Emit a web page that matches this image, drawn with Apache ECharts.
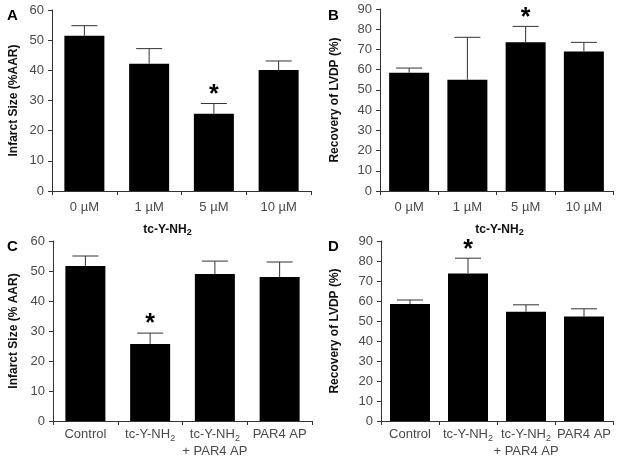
<!DOCTYPE html>
<html>
<head>
<meta charset="utf-8">
<script src="https://cdn.jsdelivr.net/npm/echarts@6/dist/echarts.min.js"></script>
<style>html,body{margin:0;padding:0;background:#fff}#c{width:624px;height:460px}</style>
</head>
<body>
<div id="c"></div>
<script>
// ---- data ----
var catsAB = ['0 µM', '1 µM', '5 µM', '10 µM'];
var catsCD = ['Control', 'tc-Y-NH2', 'tc-Y-NH2\n+ PAR4 AP', 'PAR4 AP'];
var infarctA = [51.5, 42.2, 25.6, 40.1];
var infarctAErr = [3.3, 5.0, 3.4, 3.0];
var lvdpB = [58.5, 55.0, 73.5, 69.0];
var lvdpBErr = [2.3, 21.0, 7.9, 4.5];
var infarctC = [51.7, 25.7, 49.0, 48.0];
var infarctCErr = [3.3, 3.6, 4.3, 5.0];
var lvdpD = [58.5, 73.8, 54.6, 52.2];
var lvdpDErr = [2.0, 7.6, 3.5, 3.9];
var sigA = [0, 0, 1, 0];
var sigB = [0, 0, 1, 0];
var sigC = [0, 1, 0, 0];
var sigD = [0, 1, 0, 0];
var panelLetters = ['A', 'B', 'C', 'D'];

var FONT = '"Liberation Sans", Arial, sans-serif';
var AXC = '#333';

function fmtLabel(v) {
  return v.split('\n').map(function (line) {
    return line.replace(/NH2/g, 'NH{s|2}');
  }).join('\n');
}
var labelRich = {
  s: { fontSize: 9, fontFamily: FONT, color: '#4a4a4a', verticalAlign: 'bottom', padding: [6, 0, 0, 0] }
};

var grids = [
  { left: 52, top: 10, width: 259, height: 181 },
  { left: 380, top: 9, width: 233, height: 182 },
  { left: 53, top: 241, width: 259, height: 180 },
  { left: 381, top: 241, width: 232, height: 180 }
];
var yNames = ['Infarct Size (%AAR)', 'Recovery of LVDP (%)', 'Infarct Size (% AAR)', 'Recovery of LVDP (%)'];
var yMax = [60, 90, 60, 90];
var yNameGap = [32, 39, 33, 40];
var xLabelMargin = [8, 8, 5, 5];
var cats = [catsAB, catsAB, catsCD, catsCD];
var vals = [infarctA, lvdpB, infarctC, lvdpD];
var errs = [infarctAErr, lvdpBErr, infarctCErr, lvdpDErr];
var sigs = [sigA, sigB, sigC, sigD];

var xAxes = [], yAxes = [], series = [];
for (var k = 0; k < 4; k++) {
  var xa = {
    type: 'category', gridIndex: k, data: cats[k],
    axisLine: { show: true, lineStyle: { color: AXC, width: 1 } },
    axisTick: { show: true, length: 4, lineStyle: { color: AXC } },
    axisLabel: { color: '#4a4a4a', fontSize: 13, fontFamily: FONT, margin: xLabelMargin[k], interval: 0, lineHeight: 17,
      formatter: fmtLabel, rich: labelRich }
  };
  if (k < 2) {
    xa.name = 'tc-Y-NH{s|2}';
    xa.nameLocation = 'middle';
    xa.nameGap = 31;
    xa.nameTextStyle = { color: '#111', fontSize: 12, fontWeight: 'bold', fontFamily: FONT,
      padding: k === 0 ? [0, 28, 0, 0] : [0, 0, 0, 6],
      rich: { s: { fontSize: 9, fontWeight: 'bold', fontFamily: FONT, color: '#111', verticalAlign: 'bottom', padding: [6, 0, 0, 0] } } };
  }
  xAxes.push(xa);
  yAxes.push({
    type: 'value', gridIndex: k, min: 0, max: yMax[k], interval: 10,
    name: yNames[k], nameLocation: 'middle', nameGap: yNameGap[k],
    nameTextStyle: { color: '#111', fontSize: 12, fontWeight: 'bold', fontFamily: FONT },
    axisLine: { show: true, lineStyle: { color: AXC, width: 1 } },
    axisTick: { show: true, length: 4, lineStyle: { color: AXC } },
    axisLabel: { color: '#4a4a4a', fontSize: 13, fontFamily: FONT, margin: 8 },
    splitLine: { show: false }
  });
  series.push({
    type: 'bar', xAxisIndex: k, yAxisIndex: k, data: vals[k], barWidth: 40,
    itemStyle: { color: '#000' }, silent: true, animation: false
  });
  (function (kk) {
    series.push({
      type: 'custom', xAxisIndex: kk, yAxisIndex: kk, animation: false, silent: true,
      data: vals[kk].map(function (v, i) { return [i, v, v + errs[kk][i], sigs[kk][i]]; }),
      encode: { x: 0, y: [1, 2] },
      z: 5,
      renderItem: function (params, api) {
        var i = api.value(0);
        var p0 = api.coord([i, api.value(1)]);
        var p1 = api.coord([i, api.value(2)]);
        var children = [
          { type: 'line', shape: { x1: p0[0], y1: p0[1], x2: p1[0], y2: p1[1] }, style: { stroke: '#333', lineWidth: 1 } },
          { type: 'line', shape: { x1: p1[0] - 13, y1: p1[1], x2: p1[0] + 13, y2: p1[1] }, style: { stroke: '#333', lineWidth: 1 } }
        ];
        if (api.value(3)) {
          children.push({ type: 'text', x: p1[0], y: p1[1] + 4,
            style: { text: '*', fill: '#000', font: 'bold 25px ' + FONT, align: 'center', verticalAlign: 'bottom' } });
        }
        return { type: 'group', children: children };
      }
    });
  })(k);
}

var letterPos = [[7, 8], [328, 8], [7, 239], [328, 239]];
var graphics = panelLetters.map(function (L, i) {
  return { type: 'text', left: letterPos[i][0], top: letterPos[i][1],
    style: { text: L, fill: '#000', font: 'bold 15px ' + FONT } };
});

var chart = echarts.init(document.getElementById('c'), null, { renderer: 'canvas' });
chart.setOption({
  animation: false,
  backgroundColor: '#fff',
  grid: grids,
  xAxis: xAxes,
  yAxis: yAxes,
  series: series,
  graphic: graphics
});
</script>
</body>
</html>
